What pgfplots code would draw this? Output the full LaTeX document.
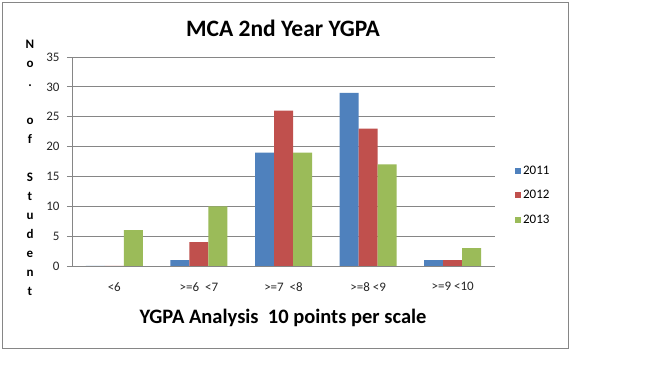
\documentclass[border=0pt]{standalone}
\usepackage{pgfplots}
\pgfplotsset{compat=1.18}
\usepackage{fontspec}
\setmainfont{Carlito}
\definecolor{c2011}{HTML}{4F81BD}
\definecolor{c2012}{HTML}{C0504D}
\definecolor{c2013}{HTML}{9BBB59}
\definecolor{gridc}{HTML}{868686}
\begin{document}
\begin{tikzpicture}[x=1pt,y=1pt]
\path[use as bounding box, fill=white] (0,0) rectangle (672,372);
\draw[gridc, line width=0.8pt] (2,370) rectangle (568,24);
\node[font=\fontsize{23.5}{26}\selectfont\bfseries] at (283,344) {MCA 2nd Year YGPA};
\node[font=\fontsize{20.5}{24}\selectfont\bfseries] at (283,54) {YGPA Analysis\ \ 10 points per scale};
\node[font=\fontsize{13}{19}\selectfont\bfseries, align=center, anchor=north] at (30,335) {N\\o\\.\\[19pt]o\\f\\[19pt]S\\t\\u\\d\\e\\n\\t};
\begin{axis}[
  at={(72pt,106pt)}, anchor=south west,
  width=423pt, height=209pt, scale only axis,
  xmin=-0.5, xmax=4.5, ymin=0, ymax=35,
  ybar=0pt, bar width=19pt,
  axis x line*=bottom, axis y line*=left,
  axis line style={gridc, line width=0.8pt},
  ytick={0,5,...,35},
  ymajorgrids, grid style={gridc, line width=0.8pt},
  tick align=outside,
  major tick length=5pt,
  tick style={gridc, line width=0.8pt},
  xtick={0,...,4},
  xticklabels={{<6},{>=6\ \ <7},{>=7\ \ <8},{>=8 <9},{>=9 <10}},
  x tick style={draw=none},
  minor xtick={-0.5,0.5,...,4.5},
  minor x tick style={gridc, line width=0.8pt},
  minor tick length=5pt,
  /pgf/number format/assume math mode=true,
  tick label style={font=\fontsize{13}{15}\selectfont, text=black!85},
  yticklabel style={xshift=-4pt},
  xticklabel style={yshift=-8pt},
  legend style={at={(1.04,0.5)}, anchor=north west, draw=none, fill=none,
    font=\fontsize{13}{15}\selectfont, row sep=10.5pt,
    legend cell align=left},
  legend image code/.code={\fill[#1] (0pt,-3pt) rectangle (6pt,3pt);},
]
\addplot[fill=c2011, draw=none] coordinates {(0,0) (1,1) (2,19) (3,29) (4,1)};
\addplot[fill=c2012, draw=none] coordinates {(0,0) (1,4) (2,26) (3,23) (4,1)};
\addplot[fill=c2013, draw=none] coordinates {(0,6) (1,10) (2,19) (3,17) (4,3)};
\legend{2011,2012,2013}
\end{axis}
\end{tikzpicture}
\end{document}
